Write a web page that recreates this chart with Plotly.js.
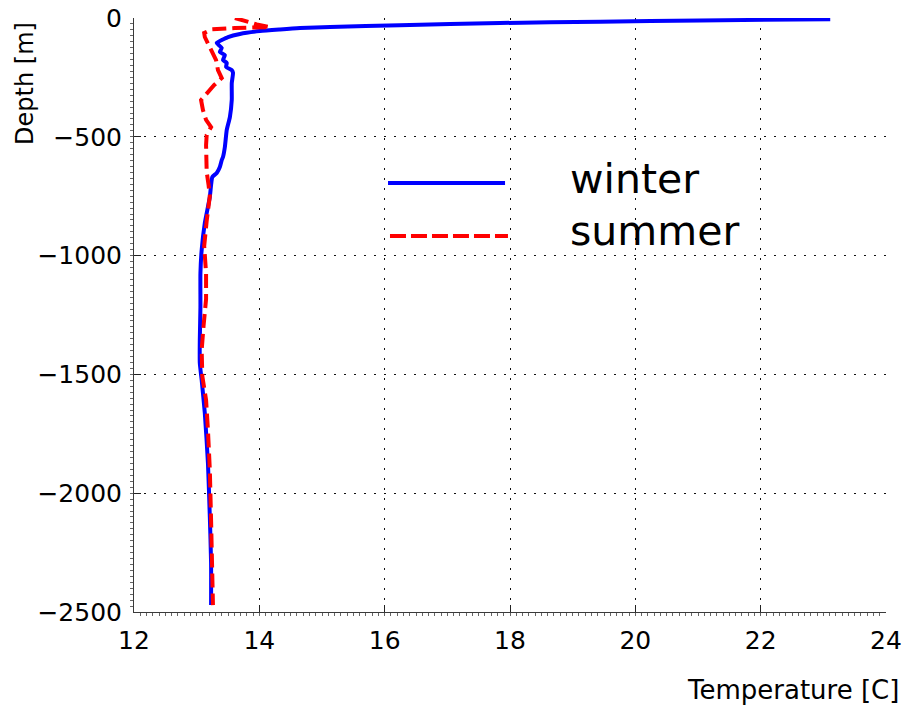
<!DOCTYPE html>
<html>
<head>
<meta charset="utf-8">
<script src="https://cdn.plot.ly/plotly-3.0.1.min.js"></script>
<style>
  html, body { margin: 0; padding: 0; background: #fff; }
  #chart { width: 908px; height: 711px; }
</style>
</head>
<body>
<div id="chart"></div>
<script>
// Winter temperature profile: depth [m] (positive down) and temperature [C]
const winterDepth = [5, 10.5, 15.6, 21, 30, 38, 42, 48, 55, 67, 80, 93, 105, 126, 143, 156, 177, 189, 206, 219, 231,
  274, 345, 417, 471, 543, 585, 598, 627, 652, 669, 703, 753, 863, 976, 1074, 1216, 1355, 1452, 1524,
  1663, 1873, 2100, 2294, 2471];
const winterTemp = [23.11, 21.03, 19.44, 17.84, 16.24, 15.13, 14.65, 14.33, 14.01, 13.69, 13.50, 13.40, 13.32, 13.40, 13.37, 13.45, 13.42, 13.48, 13.47, 13.56, 13.58,
  13.56, 13.56, 13.53, 13.48, 13.45, 13.42, 13.40, 13.37, 13.32, 13.25, 13.23, 13.21, 13.13, 13.08, 13.06, 13.06, 13.05, 13.05, 13.08,
  13.13, 13.18, 13.21, 13.23, 13.23];

// Summer temperature profile
const summerDepth = [0, 12.6, 27, 38, 40, 42, 48, 63, 80, 105, 135, 177, 219, 253, 282, 316, 345, 387, 429, 459,
  492, 535, 648, 703, 749, 854, 960, 1073, 1183, 1296, 1397, 1507, 1608, 1734, 1902, 2113, 2281, 2471];
const summerTemp = [13.61, 13.77, 13.96, 14.17, 13.85, 13.61, 13.24, 13.12, 13.13, 13.18, 13.23, 13.31, 13.34, 13.40, 13.28, 13.16, 13.07, 13.10, 13.15, 13.23,
  13.16, 13.15, 13.16, 13.19, 13.21, 13.16, 13.12, 13.15, 13.15, 13.11, 13.08, 13.09, 13.15, 13.18, 13.21, 13.23, 13.24, 13.26];

// Axis ticks
const xTicks = [12, 14, 16, 18, 20, 22, 24];
const xTickText = ['12', '14', '16', '18', '20', '22', '24'];
const yTicks = [0, -500, -1000, -1500, -2000, -2500];
const yTickText = ['0', '\u2212500', '\u22121000', '\u22121500', '\u22122000', '\u22122500'];

// Series names
const seriesNames = ['winter', 'summer'];

const FONT = 'DejaVu Sans, sans-serif';
const BLUE = '#0000ff';
const RED = '#ff0000';
const DASH = '14px,6px';

const neg = a => a.map(v => -v);

const traces = [
  {
    x: winterTemp, y: neg(winterDepth), type: 'scatter', mode: 'lines',
    name: seriesNames[0], showlegend: false,
    line: { color: BLUE, width: 4, shape: 'spline', smoothing: 0.5 }
  },
  {
    x: summerTemp, y: neg(summerDepth), type: 'scatter', mode: 'lines',
    name: seriesNames[1], showlegend: false,
    line: { color: RED, width: 4, dash: DASH }
  }
];

const axisCommon = {
  showline: true, linecolor: '#3a3a3a', linewidth: 1, mirror: false,
  ticks: 'inside', ticklen: 7, tickwidth: 1, tickcolor: '#222',
  showgrid: true, gridcolor: '#111', gridwidth: 1, griddash: '2px,8px',
  zeroline: false,
  tickfont: { family: FONT, size: 25, color: '#000' },
  fixedrange: true
};

const layout = {
  width: 908, height: 711,
  margin: { l: 134, r: 22, t: 18, b: 99, pad: 0 },
  paper_bgcolor: '#fff', plot_bgcolor: '#fff',
  showlegend: false,
  xaxis: Object.assign({}, axisCommon, {
    range: [12, 24], tickmode: 'array', tickvals: xTicks, ticktext: xTickText,
    ticklabelstandoff: 6,
    minor: { ticks: 'outside', ticklen: 3, tickcolor: '#666', dtick: 0.1, showgrid: false }
  }),
  yaxis: Object.assign({}, axisCommon, {
    range: [-2500, 0], tickmode: 'array', tickvals: yTicks, ticktext: yTickText,
    ticklabelstandoff: 6,
    minor: { ticks: 'outside', ticklen: 3, tickcolor: '#666', dtick: 25, showgrid: false }
  }),
  shapes: [
    // legend samples
    { type: 'line', xref: 'paper', yref: 'paper', x0: 0.3378, x1: 0.4934, y0: 0.7222, y1: 0.7222,
      line: { color: BLUE, width: 4 } },
    { type: 'line', xref: 'paper', yref: 'paper', x0: 0.3404, x1: 0.4973, y0: 0.633, y1: 0.633,
      line: { color: RED, width: 4, dash: '16px,5px' } }
  ],
  annotations: [
    { text: seriesNames[0], xref: 'paper', yref: 'paper', x: 0.577, y: 0.729,
      xanchor: 'left', yanchor: 'middle', showarrow: false,
      font: { family: FONT, size: 41, color: '#000' } },
    { text: seriesNames[1], xref: 'paper', yref: 'paper', x: 0.577, y: 0.641,
      xanchor: 'left', yanchor: 'middle', showarrow: false,
      font: { family: FONT, size: 41, color: '#000' } },
    { text: 'Depth [m]', xref: 'paper', yref: 'paper', x: -0.145, y: 0.8906,
      xanchor: 'center', yanchor: 'middle', textangle: -90, showarrow: false,
      font: { family: FONT, size: 24, color: '#000' } },
    { text: 'Temperature [C]', xref: 'paper', yref: 'paper', x: 0.876, y: -0.131,
      xanchor: 'center', yanchor: 'middle', showarrow: false,
      font: { family: FONT, size: 26, color: '#000' } }
  ]
};

Plotly.newPlot('chart', traces, layout, { staticPlot: true, displayModeBar: false });
</script>
</body>
</html>
